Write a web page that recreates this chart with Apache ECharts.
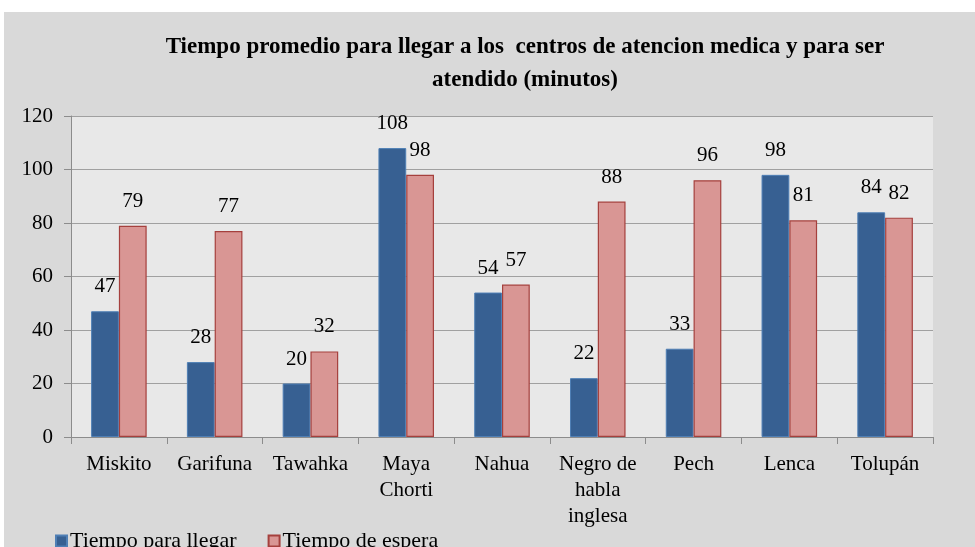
<!DOCTYPE html>
<html><head><meta charset="utf-8">
<script src="https://cdn.jsdelivr.net/npm/echarts@6/dist/echarts.min.js"></script>
<style>html,body{margin:0;padding:0;background:#fff}#c{width:975px;height:547px}</style>
</head><body><div id="c"></div>
<script>
const categories = ["Miskito","Garifuna","Tawahka","Maya\nChorti","Nahua","Negro de\nhabla\ninglesa","Pech","Lenca","Tolupán"];
const tiempoLlegar = [47,28,20,108,54,22,33,98,84];
const tiempoEspera = [79,77,32,98,57,88,96,81,82];
const yTicks = {min:0, max:120, interval:20};
const FONT = "'Liberation Serif', 'Times New Roman', serif";
const chart = echarts.init(document.getElementById('c'), null, {renderer:'canvas'});
chart.setOption({
  backgroundColor:'#ffffff',
  animation:false,
  graphic:[{type:'rect', z:-10, shape:{x:4,y:12,width:971,height:535}, style:{fill:'#d9d9d9'}}],
  title:{
    text:'Tiempo promedio para llegar a los  centros de atencion medica y para ser\natendido (minutos)',
    left:520, top:26, textAlign:'center',
    textStyle:{fontFamily:FONT, fontWeight:'bold', fontSize:23, lineHeight:33, color:'#000'}
  },
  legend:{
    left:50, top:525, itemWidth:11, itemHeight:11, itemGap:31,
    textStyle:{fontFamily:FONT, fontSize:22, color:'#000', padding:[0,0,0,-2]},
    data:[{name:'Tiempo para llegar', icon:'rect'},{name:'Tiempo de espera', icon:'rect'}]
  },
  grid:{left:71, right:42, top:116, bottom:110, show:true, backgroundColor:'#e8e8e8', borderWidth:0},
  xAxis:{
    type:'category', data:categories,
    axisLine:{lineStyle:{color:'#8c8c8c'}},
    axisTick:{show:true, length:7, lineStyle:{color:'#8c8c8c'}},
    axisLabel:{interval:0, fontFamily:FONT, fontSize:21, lineHeight:26, color:'#000', margin:14}
  },
  yAxis:{
    type:'value', min:yTicks.min, max:yTicks.max, interval:yTicks.interval,
    axisLine:{show:true, lineStyle:{color:'#8c8c8c'}},
    axisTick:{show:true, length:7, lineStyle:{color:'#8c8c8c'}},
    splitLine:{lineStyle:{color:'#a0a0a0', width:1}},
    axisLabel:{fontFamily:FONT, fontSize:21, color:'#000', margin:18}
  },
  series:[
    {name:'Tiempo para llegar', type:'bar', data:tiempoLlegar, barGap:'0%', barCategoryGap:'42%',
     itemStyle:{color:'#376092', borderColor:'#4f7fb5', borderWidth:1},
     label:{show:true, position:'top', distance:14, fontFamily:FONT, fontSize:21, color:'#000'}},
    {name:'Tiempo de espera', type:'bar', data:tiempoEspera,
     itemStyle:{color:'#d99694', borderColor:'#a5403d', borderWidth:1.2},
     label:{show:true, position:'top', distance:14, fontFamily:FONT, fontSize:21, color:'#000'}}
  ]
});
</script></body></html>
